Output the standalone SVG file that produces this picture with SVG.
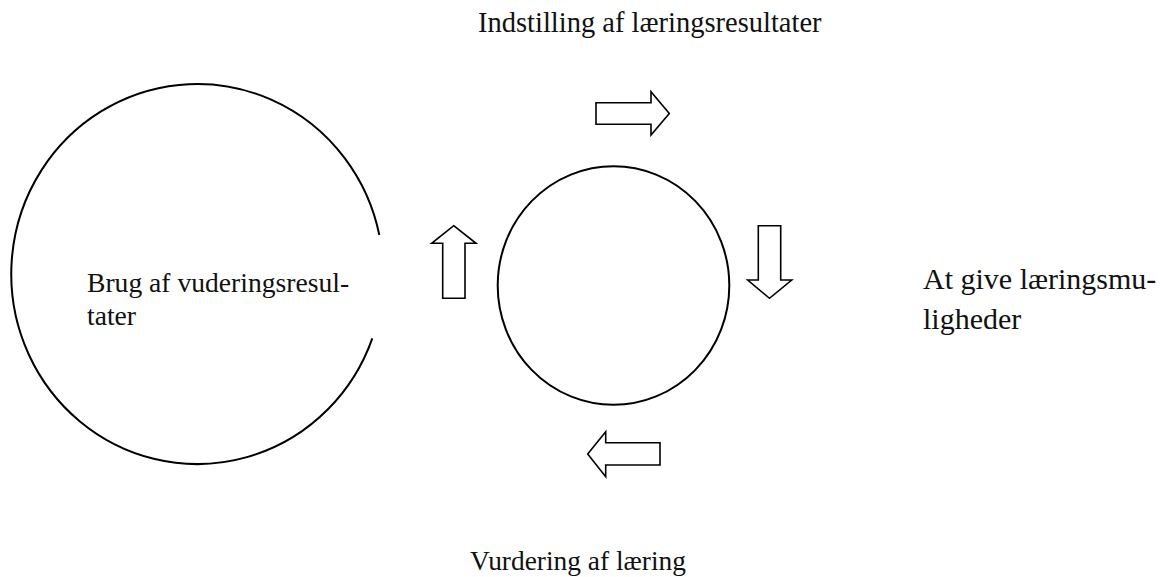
<svg xmlns="http://www.w3.org/2000/svg" width="1160" height="577" viewBox="0 0 1160 577">
  <style>
    .shape { fill: none; stroke: #000; stroke-width: 2; }
    .arrow { fill: #fff; stroke: #000; stroke-width: 1.6; stroke-linejoin: miter; }
    .lbl { font-family: "Liberation Serif", "Times New Roman", serif; fill: #111; }
  </style>
  <rect width="1160" height="577" fill="#fff"/>
  <g id="node-brug">
    <path class="shape" d="M 379.3 235 A 186 190 0 1 0 372.3 338.3"/>
    <text class="lbl" font-size="27.6" x="87" y="292">Brug af vuderingsresul-</text>
    <text class="lbl" font-size="27.6" x="87" y="325">tater</text>
  </g>
  <g id="node-center">
    <ellipse class="shape" cx="613.5" cy="285.5" rx="115.8" ry="119.3"/>
  </g>
  <g id="node-indstilling">
    <text class="lbl" font-size="28.5" x="478" y="32">Indstilling af læringsresultater</text>
  </g>
  <g id="node-give">
    <text class="lbl" font-size="30" x="923" y="289">At give læringsmu-</text>
    <text class="lbl" font-size="30" x="923" y="329">ligheder</text>
  </g>
  <g id="node-vurdering">
    <text class="lbl" font-size="27.4" x="470" y="570">Vurdering af læring</text>
  </g>
  <g id="connectors">
    <polygon class="arrow" points="596,102.7 651,102.7 651,91.7 669.3,113.5 651,135 651,124.3 596,124.3"/>
    <polygon class="arrow" points="758.3,225.7 780.7,225.7 780.7,280 791.7,280 769.5,298.3 747.7,280 758.3,280"/>
    <polygon class="arrow" points="453.7,225.7 476,243.3 465,243.3 465,298.3 442.7,298.3 442.7,243.3 431.7,243.3"/>
    <polygon class="arrow" points="587.7,454 605.7,431.7 605.7,442.7 660,442.7 660,465 605.7,465 605.7,476.7"/>
  </g>
</svg>
